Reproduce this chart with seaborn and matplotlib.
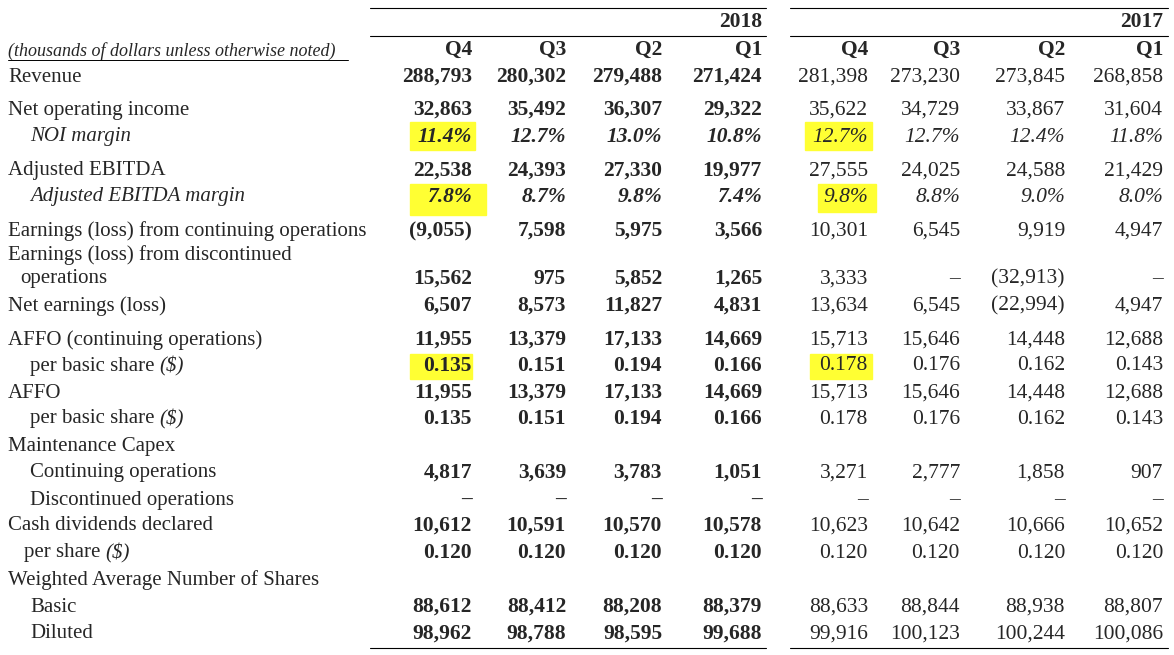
import matplotlib
matplotlib.use("Agg")
import matplotlib.pyplot as plt
import seaborn as sns
from matplotlib.patches import Rectangle

sns.set_style("white")
plt.rcParams['font.family'] = ['Liberation Serif', 'DejaVu Serif']

years = ["2018", "2017"]
quarters = ["Q4", "Q3", "Q2", "Q1", "Q4", "Q3", "Q2", "Q1"]
header_note = "(thousands of dollars unless otherwise noted)"

# (label, indent, italic label, values, italic values, y)
rows = [
    ("Revenue", 0, False, ["288,793", "280,302", "279,488", "271,424", "281,398", "273,230", "273,845", "268,858"], False, 77),
    ("Net operating income", 0, False, ["32,863", "35,492", "36,307", "29,322", "35,622", "34,729", "33,867", "31,604"], False, 110),
    ("NOI margin", 22, True, ["11.4%", "12.7%", "13.0%", "10.8%", "12.7%", "12.7%", "12.4%", "11.8%"], True, 137),
    ("Adjusted EBITDA", 0, False, ["22,538", "24,393", "27,330", "19,977", "27,555", "24,025", "24,588", "21,429"], False, 171),
    ("Adjusted EBITDA margin", 22, True, ["7.8%", "8.7%", "9.8%", "7.4%", "9.8%", "8.8%", "9.0%", "8.0%"], True, 197),
    ("Earnings (loss) from continuing operations", 0, False, ["(9,055)", "7,598", "5,975", "3,566", "10,301", "6,545", "9,919", "4,947"], False, 231),
    ("Earnings (loss) from discontinued", 0, False, None, False, 255),
    ("operations", 12, False, ["15,562", "975", "5,852", "1,265", "3,333", "–", "(32,913)", "–"], False, 279),
    ("Net earnings (loss)", 0, False, ["6,507", "8,573", "11,827", "4,831", "13,634", "6,545", "(22,994)", "4,947"], False, 306),
    ("AFFO (continuing operations)", 0, False, ["11,955", "13,379", "17,133", "14,669", "15,713", "15,646", "14,448", "12,688"], False, 340),
    ("per basic share |($)", 22, False, ["0.135", "0.151", "0.194", "0.166", "0.178", "0.176", "0.162", "0.143"], False, 366),
    ("AFFO", 0, False, ["11,955", "13,379", "17,133", "14,669", "15,713", "15,646", "14,448", "12,688"], False, 393),
    ("per basic share |($)", 22, False, ["0.135", "0.151", "0.194", "0.166", "0.178", "0.176", "0.162", "0.143"], False, 419),
    ("Maintenance Capex", 0, False, None, False, 446),
    ("Continuing operations", 22, False, ["4,817", "3,639", "3,783", "1,051", "3,271", "2,777", "1,858", "907"], False, 473),
    ("Discontinued operations", 22, False, ["–"] * 8, False, 500),
    ("Cash dividends declared", 0, False, ["10,612", "10,591", "10,570", "10,578", "10,623", "10,642", "10,666", "10,652"], False, 526),
    ("per share |($)", 16, False, ["0.120"] * 8, False, 553),
    ("Weighted Average Number of Shares", 0, False, None, False, 580),
    ("Basic", 22, False, ["88,612", "88,412", "88,208", "88,379", "88,633", "88,844", "88,938", "88,807"], False, 607),
    ("Diluted", 22, False, ["98,962", "98,788", "98,595", "99,688", "99,916", "100,123", "100,244", "100,086"], False, 634),
]

col_right = [472, 566, 662, 762, 868, 960, 1065, 1163]
# highlighted cells: (x0, y0, x1, y1)
highlights = [(410, 122, 475, 150), (805, 122, 872, 150), (410, 184, 486, 215),
              (818, 184, 876, 212), (410, 354, 472, 379), (810, 354, 872, 379)]

fig = plt.figure(figsize=(11.74, 6.55), dpi=100)
ax = fig.add_axes([0, 0, 1, 1])
ax.set_xlim(0, 1174)
ax.set_ylim(655, 0)
ax.axis("off")

for x0, y0, x1, y1 in highlights:
    ax.add_patch(Rectangle((x0, y0), x1 - x0, y1 - y0, color="#ffff33", zorder=0))

fs = 15
fsn = 15.5
for xa, xb in [(370, 766), (790, 1168)]:
    for yy in (8, 36, 648):
        ax.plot([xa, xb], [yy, yy], color="black", lw=0.8)
ax.text(762, 22, years[0], ha="right", va="center", fontsize=fsn, fontweight="bold")
ax.text(1163, 22, years[1], ha="right", va="center", fontsize=fsn, fontweight="bold")
for i, q in enumerate(quarters):
    ax.text(col_right[i], 50, q, ha="right", va="center", fontsize=fsn, fontweight="bold")
ax.text(8, 51, header_note, ha="left", va="center", fontsize=13, style="italic")
ax.plot([8, 348], [60, 60], color="black", lw=0.7)

fig.canvas.draw()
renderer = fig.canvas.get_renderer()
inv = ax.transData.inverted()

for label, indent, ital, vals, ival, y in rows:
    parts = label.split("|")
    t = ax.text(8 + indent, y, parts[0].rstrip(), ha="left", va="center", fontsize=fs,
                style="italic" if ital else "normal")
    if len(parts) > 1:
        bb = t.get_window_extent(renderer)
        xe = inv.transform((bb.x1, bb.y0))[0]
        ax.text(xe + 5, y, parts[1], ha="left", va="center", fontsize=fs, style="italic")
    if vals is None:
        continue
    for i, v in enumerate(vals):
        ax.text(col_right[i], y, v, ha="right", va="center", fontsize=fsn,
                fontweight="bold" if i < 4 else "normal",
                style="italic" if ival else "normal")

fig.savefig("out.png", dpi=100)
